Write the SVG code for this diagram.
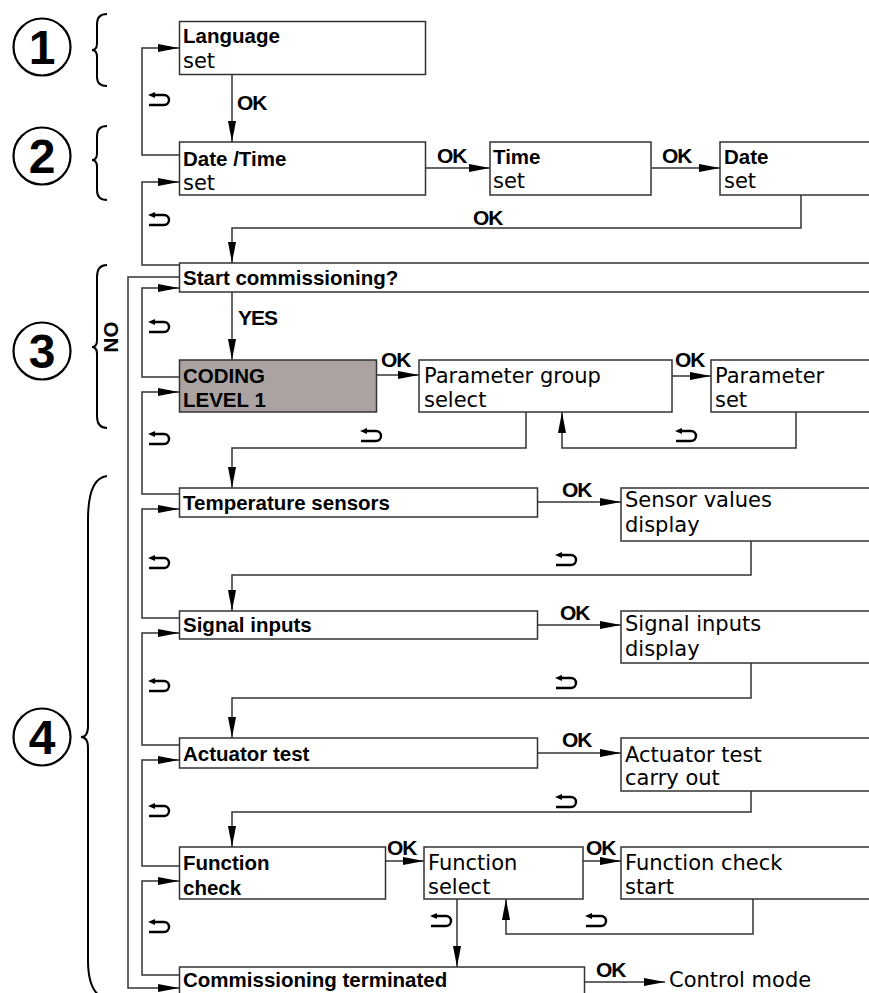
<svg xmlns="http://www.w3.org/2000/svg" width="869" height="993" viewBox="0 0 869 993">
<style>
.box{fill:#fff;stroke:#333;stroke-width:1.5}
.grey{fill:#aba3a1;stroke:#333;stroke-width:1.5}
.ln{fill:none;stroke:#333;stroke-width:1.5}
.b{font-family:"Liberation Sans",Arial,sans-serif;font-weight:bold;font-size:20.5px;fill:#000}
.n{font-family:"DejaVu Sans","Liberation Sans",sans-serif;font-size:21px;fill:#000}
.ok{font-family:"Liberation Sans",Arial,sans-serif;font-weight:bold;font-size:21px;fill:#000;letter-spacing:-1px}
.num{font-family:"Liberation Sans",Arial,sans-serif;font-weight:bold;font-size:48px;fill:#000;text-anchor:middle}
.circ{fill:none;stroke:#000;stroke-width:2.2}
.brace{fill:none;stroke:#000;stroke-width:2}
</style>
<defs>
<marker id="ah" markerUnits="userSpaceOnUse" markerWidth="22" markerHeight="8" refX="21" refY="4" orient="auto">
<path d="M0,0 L21,4 L0,8 Z" fill="#000"/>
</marker>
<g id="ret">
<path d="M6,3 H16 A5,5 0 0 1 16,13 H1" fill="none" stroke="#000" stroke-width="2.4"/>
<path d="M0,3 L7,0 L7,6 Z" fill="#000"/>
</g>
</defs>
<rect width="869" height="993" fill="#fff"/>

<g id="labels">
<circle class="circ" cx="42" cy="47" r="28.5"/><text class="num" x="42" y="64">1</text>
<circle class="circ" cx="42" cy="156" r="28.5"/><text class="num" x="42" y="173">2</text>
<circle class="circ" cx="42" cy="351" r="28.5"/><text class="num" x="42" y="368">3</text>
<circle class="circ" cx="42" cy="737" r="28.5"/><text class="num" x="42" y="754">4</text>
<path class="brace" d="M107,14 Q97,14 97,24 L97,43 Q97,50 92,50 Q97,50 97,57 L97,77 Q97,86 107,86"/>
<path class="brace" d="M107,126 Q97,126 97,136 L97,153 Q97,160 92,160 Q97,160 97,167 L97,190 Q97,200 107,200"/>
<path class="brace" d="M107,265 Q97,265 97,277 L97,340 Q97,347 92,347 Q97,347 97,354 L97,416 Q97,428 107,428"/>
<path class="brace" d="M107,476 Q88,478 88,520 L88,726 Q88,737 81,737 Q88,737 88,748 L88,960 Q88,988 100,996"/>
<text class="b" transform="translate(118,337) rotate(-90)" text-anchor="middle" font-size="21">NO</text>
</g>

<g id="connectors">
<path class="ln" d="M179,155 H142 V48 H179" marker-end="url(#ah)"/>
<path class="ln" d="M179,265 H142 V182 H179" marker-end="url(#ah)"/>
<path class="ln" d="M179,377 H142 V288 H179" marker-end="url(#ah)"/>
<path class="ln" d="M179,494 H142 V392 H179" marker-end="url(#ah)"/>
<path class="ln" d="M179,618 H142 V509 H179" marker-end="url(#ah)"/>
<path class="ln" d="M179,745 H142 V633 H179" marker-end="url(#ah)"/>
<path class="ln" d="M179,866 H142 V760 H179" marker-end="url(#ah)"/>
<path class="ln" d="M179,975 H142 V881 H179" marker-end="url(#ah)"/>
<path class="ln" d="M179,277 H128 V988 H179" marker-end="url(#ah)"/>
<path class="ln" d="M232,74 V142" marker-end="url(#ah)"/>
<path class="ln" d="M801,195 V228 H232 V263" marker-end="url(#ah)"/>
<path class="ln" d="M232,292 V360" marker-end="url(#ah)"/>
<path class="ln" d="M526,412 V448 H232 V488" marker-end="url(#ah)"/>
<path class="ln" d="M751,541 V575 H232 V611" marker-end="url(#ah)"/>
<path class="ln" d="M751,663 V698 H232 V738" marker-end="url(#ah)"/>
<path class="ln" d="M751,791 V812 H232 V847" marker-end="url(#ah)"/>
<path class="ln" d="M796,412 V448 H562 V412" marker-end="url(#ah)"/>
<path class="ln" d="M753,899 V934 H506 V899" marker-end="url(#ah)"/>
<path class="ln" d="M457,899 V967" marker-end="url(#ah)"/>
<path class="ln" d="M425,168 H490" marker-end="url(#ah)"/>
<path class="ln" d="M651,168 H720" marker-end="url(#ah)"/>
<path class="ln" d="M376,375 H419" marker-end="url(#ah)"/>
<path class="ln" d="M672,376 H711" marker-end="url(#ah)"/>
<path class="ln" d="M537,502 H621" marker-end="url(#ah)"/>
<path class="ln" d="M537,625 H621" marker-end="url(#ah)"/>
<path class="ln" d="M537,753 H621" marker-end="url(#ah)"/>
<path class="ln" d="M385,861 H424" marker-end="url(#ah)"/>
<path class="ln" d="M583,861 H621" marker-end="url(#ah)"/>
<path class="ln" d="M584,982 H665" marker-end="url(#ah)"/>
<text class="ok" x="237" y="110">OK</text>
<text class="ok" x="437" y="163">OK</text>
<text class="ok" x="662" y="163">OK</text>
<text class="ok" x="473" y="225">OK</text>
<text class="ok" x="238" y="325" letter-spacing="1">YES</text>
<text class="ok" x="381" y="367">OK</text>
<text class="ok" x="675" y="367">OK</text>
<text class="ok" x="562" y="497">OK</text>
<text class="ok" x="560" y="620">OK</text>
<text class="ok" x="562" y="747">OK</text>
<text class="ok" x="387" y="855">OK</text>
<text class="ok" x="586" y="855">OK</text>
<text class="ok" x="596" y="977">OK</text>
<use href="#ret" x="148" y="92"/>
<use href="#ret" x="148" y="212"/>
<use href="#ret" x="148" y="319"/>
<use href="#ret" x="148" y="431"/>
<use href="#ret" x="360" y="428"/>
<use href="#ret" x="675" y="428"/>
<use href="#ret" x="148" y="555"/>
<use href="#ret" x="555" y="552"/>
<use href="#ret" x="148" y="678"/>
<use href="#ret" x="555" y="675"/>
<use href="#ret" x="148" y="803"/>
<use href="#ret" x="555" y="794"/>
<use href="#ret" x="148" y="919"/>
<use href="#ret" x="430" y="913"/>
<use href="#ret" x="585" y="913"/>
</g>

<g id="language"><rect class="box" x="179.5" y="21.5" width="246" height="53"/><text class="b" x="183" y="43">Language</text><text class="n" x="183" y="68">set</text></g>
<g id="datetime"><rect class="box" x="179.5" y="142" width="246" height="53"/><text class="b" x="183" y="166">Date /Time</text><text class="n" x="183" y="190">set</text></g>
<g id="time"><rect class="box" x="490" y="142" width="161" height="53"/><text class="b" x="493" y="164">Time</text><text class="n" x="493" y="188">set</text></g>
<g id="date"><rect class="box" x="720" y="142" width="160" height="53"/><text class="b" x="724" y="164">Date</text><text class="n" x="724" y="188">set</text></g>
<g id="startcomm"><rect class="box" x="179.5" y="263" width="700" height="29"/><text class="b" x="183" y="285">Start commissioning?</text></g>
<g id="coding"><rect class="grey" x="179.5" y="360" width="197" height="52"/><text class="b" x="183" y="383">CODING</text><text class="b" x="183" y="407">LEVEL 1</text></g>
<g id="paramgroup"><rect class="box" x="419" y="360" width="253" height="52"/><text class="n" x="424" y="383">Parameter group</text><text class="n" x="424" y="407">select</text></g>
<g id="paramset"><rect class="box" x="711" y="360" width="170" height="52"/><text class="n" x="715" y="383">Parameter</text><text class="n" x="715" y="407">set</text></g>
<g id="tempsensors"><rect class="box" x="179.5" y="488" width="358" height="29"/><text class="b" x="183" y="510">Temperature sensors</text></g>
<g id="sensorvalues"><rect class="box" x="621" y="488" width="260" height="53"/><text class="n" x="625" y="507">Sensor values</text><text class="n" x="625" y="532">display</text></g>
<g id="signalinputs"><rect class="box" x="179.5" y="611" width="358" height="28"/><text class="b" x="183" y="632">Signal inputs</text></g>
<g id="signaldisplay"><rect class="box" x="621" y="611" width="260" height="52"/><text class="n" x="625" y="631">Signal inputs</text><text class="n" x="625" y="656">display</text></g>
<g id="actuatortest"><rect class="box" x="179.5" y="738" width="358" height="30"/><text class="b" x="183" y="761">Actuator test</text></g>
<g id="actuatorcarry"><rect class="box" x="621" y="738" width="260" height="53"/><text class="n" x="625" y="762">Actuator test</text><text class="n" x="625" y="785">carry out</text></g>
<g id="functioncheck"><rect class="box" x="179.5" y="847" width="206" height="52"/><text class="b" x="183" y="870">Function</text><text class="b" x="183" y="895">check</text></g>
<g id="functionselect"><rect class="box" x="424" y="847" width="159" height="52"/><text class="n" x="428" y="870">Function</text><text class="n" x="428" y="894">select</text></g>
<g id="functionstart"><rect class="box" x="621" y="847" width="260" height="52"/><text class="n" x="625" y="870">Function check</text><text class="n" x="625" y="894">start</text></g>
<g id="commterminated"><rect class="box" x="179.5" y="967" width="405" height="40"/><text class="b" x="183" y="987">Commissioning terminated</text></g>
<g id="controlmode"><text class="n" x="669" y="987">Control mode</text></g>
</svg>
